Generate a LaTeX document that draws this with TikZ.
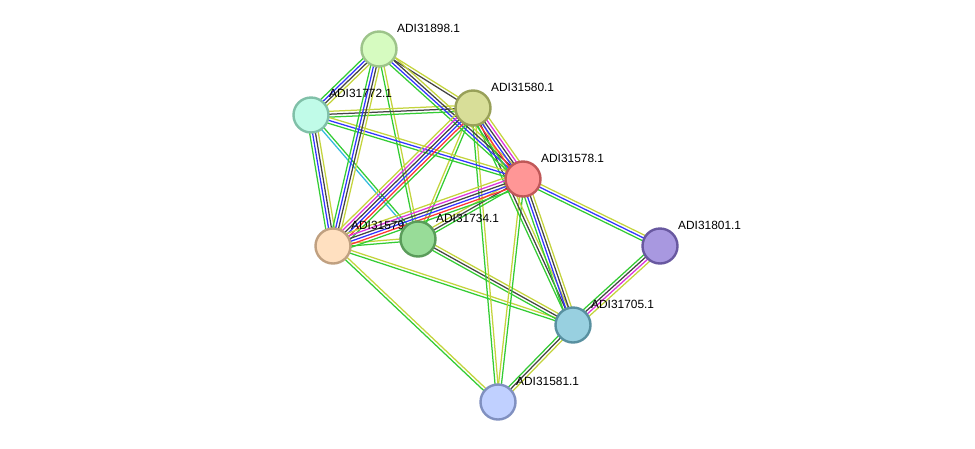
\documentclass[tikz,border=0pt]{standalone}
\usepackage{fontspec}
\setmainfont{Liberation Sans}
\usetikzlibrary{calc}
\definecolor{eg}{HTML}{33CC33}
\definecolor{ey}{HTML}{C4D43C}
\definecolor{ek}{HTML}{444444}
\definecolor{eb}{HTML}{3333FF}
\definecolor{er}{HTML}{FF3333}
\definecolor{em}{HTML}{DD33DD}
\definecolor{ec}{HTML}{33BBDD}
\tikzset{
  prot/.style={circle, minimum size=35pt, inner sep=0pt, line width=2.4pt},
  lbl/.style={anchor=west, inner sep=0pt, font=\fontsize{11.9}{14}\selectfont},
  eline/.style={line width=1.25pt},
}
\newcommand\sedge[3]{%
  \foreach \c [count=\i] in {#3} {\xdef\ncount{\i}}%
  \foreach \c [count=\i] in {#3} {%
    \pgfmathsetmacro\off{(\i-(\ncount+1)/2)*2.9}%
    \draw[eline, \c] ($(#1)!\off pt!90:(#2)$) -- ($(#2)!\off pt!-90:(#1)$);
  }%
}
\begin{document}
\begin{tikzpicture}[x=1pt,y=-1pt]
\useasboundingbox[fill=white] (0,0) rectangle (975,448);
% coordinates of nodes
\coordinate (c898) at (379,49);
\coordinate (c772) at (311,115);
\coordinate (c580) at (473,108);
\coordinate (c578) at (523,179);
\coordinate (c579) at (333,246);
\coordinate (c734) at (418,239);
\coordinate (c801) at (660,246);
\coordinate (c705) at (573,325);
\coordinate (c581) at (498,402);
% edges
\sedge{c579}{c581}{eg,ey}
\sedge{c579}{c705}{eg,ey}
\sedge{c734}{c705}{eg,ek,ey}
\sedge{c580}{c581}{eg,ey}
\sedge{c578}{c581}{ey,eg}
\sedge{c705}{c581}{eg,ek,ey}
\sedge{c801}{c705}{eg,ek,em,ey}
\sedge{c578}{c801}{eg,eb,ey}
\sedge{c580}{c705}{eg,ek,ey}
\sedge{c578}{c705}{eg,eb,ek,ey}
\sedge{c772}{c734}{ec,eg}
\sedge{c898}{c734}{eg,ey}
\sedge{c579}{c734}{eg,ey}
\sedge{c734}{c580}{eg,ey}
\sedge{c734}{c578}{eg,ek,ey}
\sedge{c772}{c580}{eg,ek,ey}
\sedge{c772}{c578}{eg,eb,ey}
\sedge{c772}{c579}{eg,eb,ek,ey}
\sedge{c898}{c772}{eg,eb,ek,ey}
\sedge{c898}{c579}{eg,eb,ek,ey}
\sedge{c898}{c580}{ek,ey}
\sedge{c898}{c578}{eg,eb,ek,ey}
\sedge{c579}{c580}{eg,er,eb,ek,em,ey}
\sedge{c579}{c578}{eg,er,eb,ek,em,ey}
\sedge{c580}{c578}{eg,er,eb,ek,em,ey}
% nodes
\node[prot, fill={rgb,255:red,214;green,251;blue,192}, draw={rgb,255:red,157;green,196;blue,138}] (n898) at (c898) {};
\node[prot, fill={rgb,255:red,192;green,251;blue,232}, draw={rgb,255:red,128;green,192;blue,168}] (n772) at (c772) {};
\node[prot, fill={rgb,255:red,216;green,222;blue,152}, draw={rgb,255:red,152;green,160;blue,88}] (n580) at (c580) {};
\node[prot, fill={rgb,255:red,255;green,150;blue,150}, draw={rgb,255:red,192;green,88;blue,88}] (n578) at (c578) {};
\node[prot, fill={rgb,255:red,255;green,224;blue,192}, draw={rgb,255:red,192;green,160;blue,128}] (n579) at (c579) {};
\node[prot, fill={rgb,255:red,152;green,220;blue,152}, draw={rgb,255:red,90;green,156;blue,90}] (n734) at (c734) {};
\node[prot, fill={rgb,255:red,168;green,152;blue,224}, draw={rgb,255:red,104;green,88;blue,160}] (n801) at (c801) {};
\node[prot, fill={rgb,255:red,152;green,208;blue,224}, draw={rgb,255:red,88;green,144;blue,160}] (n705) at (c705) {};
\node[prot, fill={rgb,255:red,192;green,208;blue,255}, draw={rgb,255:red,128;green,144;blue,192}] (n581) at (c581) {};
% labels
\node[lbl] (l898) at ($(c898)+(18,-21)$) {ADI31898.1};
\node[lbl] (l772) at ($(c772)+(18,-22)$) {ADI31772.1};
\node[lbl] (l580) at ($(c580)+(18,-21)$) {ADI31580.1};
\node[lbl] (l578) at ($(c578)+(18,-21)$) {ADI31578.1};
\node[lbl] (l579) at ($(c579)+(18,-21)$) {ADI31579};
\node[lbl] (l734) at ($(c734)+(18,-21)$) {ADI31734.1};
\node[lbl] (l801) at ($(c801)+(18,-21)$) {ADI31801.1};
\node[lbl] (l705) at ($(c705)+(18,-21)$) {ADI31705.1};
\node[lbl] (l581) at ($(c581)+(18,-21)$) {ADI31581.1};
\end{tikzpicture}
\end{document}
